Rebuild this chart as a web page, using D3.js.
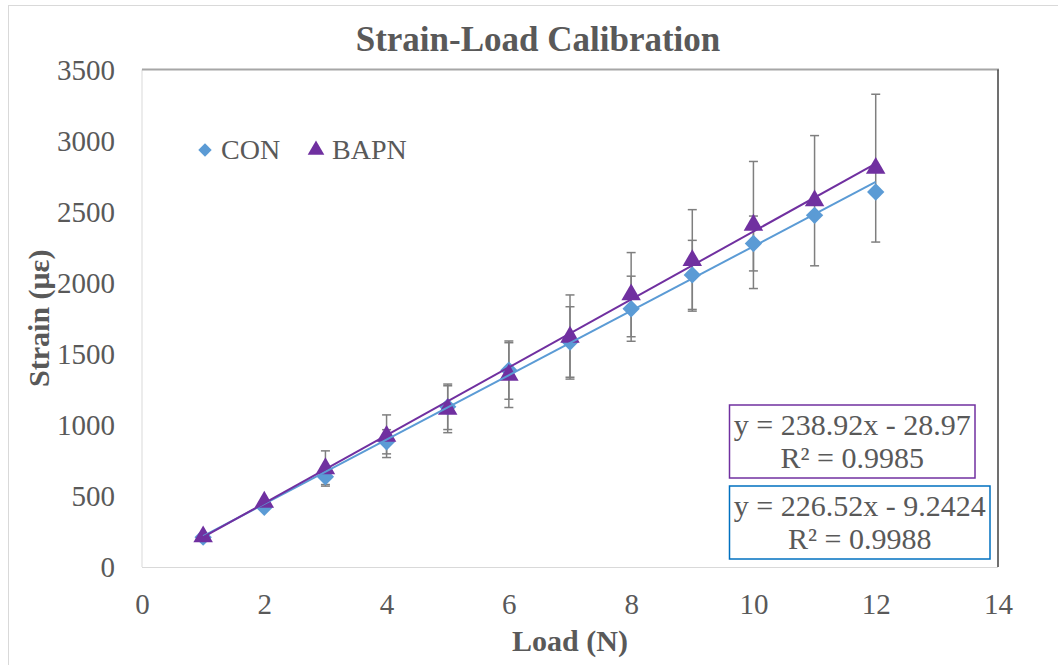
<!DOCTYPE html>
<html>
<head>
    <meta charset="utf-8">
    <title>Strain-Load Calibration</title>
    <script type="text/javascript" src="https://cdn.jsdelivr.net/npm/d3@7/dist/d3.min.js"></script>
    <style type="text/css">
        html, body { margin: 0; padding: 0; background: #fff; }
        svg { display: block; font-family: "Liberation Serif", "Times New Roman", serif; }
    </style>
</head>
<body>
<script type="text/javascript">
    // load steps (N)
    var loads = [1, 2, 3, 4, 5, 6, 7, 8, 9, 10, 11, 12];
    // mean strain per load
    var conMean  = [210, 420, 635, 881, 1127, 1385, 1583, 1817, 2055, 2276, 2474, 2638];
    var bapnMean = [213, 457, 693, 920, 1110, 1350, 1618, 1916, 2157, 2406, 2577, 2806];
    // error bar half-widths
    var conErr  = [0, 0, 55, 85, 160, 205, 248, 229, 243, 193, 0, 0];
    var bapnErr = [0, 0, 124, 150, 165, 228, 296, 296, 357, 447, 458, 520];
    // linear trendlines [slope, intercept]
    var conFit  = [226.52, -9.2424];
    var bapnFit = [238.92, -28.97];
    var conEq  = ["y = 226.52x - 9.2424", "R\u00b2 = 0.9988"];
    var bapnEq = ["y = 238.92x - 28.97", "R\u00b2 = 0.9985"];
    var xTicks = [0, 2, 4, 6, 8, 10, 12, 14];
    var yTicks = [0, 500, 1000, 1500, 2000, 2500, 3000, 3500];

    var width = 1058, height = 665;
    var m = {left: 142, right: 998, top: 69.5, bottom: 567};
    var textCol = "#595959", conCol = "#5b9bd5", bapnCol = "#7030a0";

    var svg = d3.select("body").append("svg")
        .attr("width", width).attr("height", height);

    // chart frame
    svg.append("rect").attr("x", 8.5).attr("y", 5.5)
        .attr("width", width).attr("height", height)
        .attr("fill", "none").attr("stroke", "#d9d9d9");

    var x = d3.scaleLinear().domain([0, 14]).range([m.left, m.right]);
    var y = d3.scaleLinear().domain([0, 3500]).range([m.bottom, m.top]);

    // plot area borders
    svg.append("line").attr("x1", m.left).attr("x2", m.left).attr("y1", m.top).attr("y2", m.bottom)
        .attr("stroke", "#d9d9d9");
    svg.append("line").attr("x1", m.left).attr("x2", m.right).attr("y1", m.bottom + 0.5).attr("y2", m.bottom + 0.5)
        .attr("stroke", "#d9d9d9");
    svg.append("line").attr("x1", m.left).attr("x2", m.right + 1).attr("y1", m.top).attr("y2", m.top)
        .attr("stroke", "#a6a6a6").attr("stroke-width", 2);
    svg.append("line").attr("x1", m.right).attr("x2", m.right).attr("y1", m.top).attr("y2", m.bottom)
        .attr("stroke", "#404040").attr("stroke-width", 1.5);

    // axes (labels only)
    var xAxis = svg.append("g").attr("transform", "translate(0," + m.bottom + ")")
        .call(d3.axisBottom(x).tickValues(xTicks).tickFormat(d3.format("d")).tickSize(0).tickPadding(26));
    var yAxis = svg.append("g").attr("transform", "translate(" + m.left + ",0)")
        .call(d3.axisLeft(y).tickValues(yTicks).tickFormat(d3.format("d")).tickSize(0).tickPadding(27));
    [xAxis, yAxis].forEach(function (g) {
        g.select(".domain").remove();
        g.selectAll("text").attr("fill", textCol)
            .style("font-size", "29px").style("font-family", "Liberation Serif");
    });
    yAxis.selectAll("text").attr("dy", "0.34em");

    // title and axis titles
    svg.append("text").attr("x", 538).attr("y", 51).attr("text-anchor", "middle")
        .attr("fill", textCol).style("font-size", "35px").style("font-weight", "bold")
        .text("Strain-Load Calibration");
    svg.append("text").attr("x", (m.left + m.right) / 2).attr("y", 651).attr("text-anchor", "middle")
        .attr("fill", textCol).style("font-size", "30px").style("font-weight", "bold")
        .text("Load (N)");
    svg.append("text").attr("transform", "translate(49," + (m.top + m.bottom) / 2 + ") rotate(-90)")
        .attr("text-anchor", "middle")
        .attr("fill", textCol).style("font-size", "30px").style("font-weight", "bold")
        .text("Strain (\u03bc\u03b5)");

    var series = [
        {name: "CON", mean: conMean, err: conErr, fit: conFit, col: conCol, sym: d3.symbolSquare, rot: 45, size: 150},
        {name: "BAPN", mean: bapnMean, err: bapnErr, fit: bapnFit, col: bapnCol, sym: d3.symbolTriangle, rot: 0, size: 165}
    ];

    // error bars
    series.forEach(function (s) {
        var pts = loads.map(function (l, i) { return {x: l, y: s.mean[i], e: s.err[i]}; })
            .filter(function (d) { return d.e > 0; });
        var g = svg.append("g").attr("stroke", "#7f7f7f").attr("stroke-width", 1.5);
        g.selectAll(".v").data(pts).enter().append("line")
            .attr("x1", function (d) { return x(d.x); }).attr("x2", function (d) { return x(d.x); })
            .attr("y1", function (d) { return y(d.y - d.e); }).attr("y2", function (d) { return y(d.y + d.e); });
        [-1, 1].forEach(function (sgn) {
            g.selectAll(".c" + sgn).data(pts).enter().append("line")
                .attr("x1", function (d) { return x(d.x) - 4.5; }).attr("x2", function (d) { return x(d.x) + 4.5; })
                .attr("y1", function (d) { return y(d.y + sgn * d.e); }).attr("y2", function (d) { return y(d.y + sgn * d.e); });
        });
    });

    // markers
    series.forEach(function (s) {
        svg.append("g").selectAll("path").data(loads).enter().append("path")
            .attr("d", d3.symbol().type(s.sym).size(s.size))
            .attr("fill", s.col)
            .attr("transform", function (d, i) {
                return "translate(" + x(d) + "," + y(s.mean[i]) + ") rotate(" + s.rot + ")";
            });
    });

    // trendlines
    series.forEach(function (s) {
        var ends = [loads[0], loads[loads.length - 1]];
        svg.append("path")
            .datum(ends)
            .attr("fill", "none").attr("stroke", s.col).attr("stroke-width", 2)
            .attr("d", d3.line()
                .x(function (d) { return x(d); })
                .y(function (d) { return y(s.fit[0] * d + s.fit[1]); }));
    });

    // legend
    var leg = [{s: series[0], x: 205, tx: 221}, {s: series[1], x: 316, tx: 332}];
    leg.forEach(function (l) {
        svg.append("path").attr("d", d3.symbol().type(l.s.sym).size(l.s.name === "CON" ? 90 : 120))
            .attr("fill", l.s.col)
            .attr("transform", "translate(" + l.x + ",150) rotate(" + l.s.rot + ")");
        svg.append("text").attr("x", l.tx).attr("y", 159).attr("fill", textCol)
            .style("font-size", "28px").text(l.s.name);
    });

    // equation boxes
    var boxes = [
        {lines: bapnEq, col: bapnCol, x0: 729.5, x1: 975, y0: 405, y1: 478},
        {lines: conEq, col: "#0070c0", x0: 729.5, x1: 990, y0: 486, y1: 559}
    ];
    boxes.forEach(function (b) {
        svg.append("rect").attr("x", b.x0).attr("y", b.y0)
            .attr("width", b.x1 - b.x0).attr("height", b.y1 - b.y0)
            .attr("fill", "#fff").attr("stroke", b.col).attr("stroke-width", 1.5);
        b.lines.forEach(function (t, i) {
            svg.append("text").attr("x", (b.x0 + b.x1) / 2).attr("y", b.y0 + 30 + i * 33)
                .attr("text-anchor", "middle").attr("fill", textCol)
                .style("font-size", "30px").text(t);
        });
    });
</script>
</body>
</html>
